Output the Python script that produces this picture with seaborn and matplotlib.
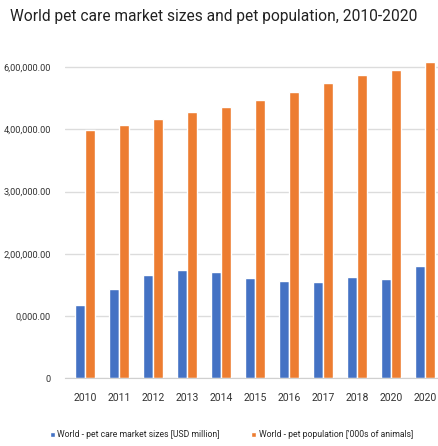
import pandas as pd
import seaborn as sns
import matplotlib.pyplot as plt

# values
years = ['2010', '2011', '2012', '2013', '2014', '2015', '2016', '2017', '2018', '2020', '2020']
market_sizes = [117000, 143000, 166000, 174000, 170000, 161000, 156000, 155000, 162000, 159000, 181000]
pet_population = [399000, 408000, 417000, 428000, 436000, 448000, 461000, 474000, 487000, 496000, 508000]
series_names = ['World - pet care market sizes [USD million]',
                "World - pet population ['000s of animals]"]
ytick_values = [0, 100000, 200000, 300000, 400000, 500000]
ytick_labels = ['0', '0,000.00', '2,00,000.00', '3,00,000.00', '4,00,000.00', '6,00,000.00']

df = pd.DataFrame({
    'idx': list(range(len(years))) * 2,
    'series': [series_names[0]] * len(years) + [series_names[1]] * len(years),
    'value': market_sizes + pet_population,
})

sns.set_style('white')
plt.rcParams['font.family'] = ['Roboto', 'DejaVu Sans']

fig = plt.figure(figsize=(4.39, 4.46), dpi=100)
ax = fig.add_axes([0.148, 0.152, 0.852, 0.725])

sns.barplot(data=df, x='idx', y='value', hue='series', saturation=1,
            palette=['#4472C4', '#ED7D31'], width=0.6, gap=0, ax=ax)

ax.set_xlim(-0.59, 10.41)
ax.set_ylim(0, 520000)
ax.set_yticks(ytick_values)
ax.set_yticklabels(ytick_labels, fontsize=6.7, color='#333333')
ax.set_xticks(range(len(years)))
ax.set_xticklabels(years, fontsize=7.5, color='#333333')
ax.tick_params(axis='x', length=0, pad=11)
ax.tick_params(axis='y', length=0, pad=10)
ax.set_xlabel('')
ax.set_ylabel('')
ax.yaxis.grid(True, color='#dcdcdc', linewidth=1)
ax.set_axisbelow(True)
for side in ['top', 'right', 'left']:
    ax.spines[side].set_visible(False)
ax.spines['bottom'].set_color('#d0d0d0')

handles, labels = ax.get_legend_handles_labels()
ax.get_legend().remove()
fig.legend(handles, labels, loc='center', bbox_to_anchor=(0.527, 0.025), ncol=2,
           frameon=False, handlelength=0.6, handleheight=0.6, handletextpad=0.3,
           columnspacing=3.6, prop={'size': 6.2})

title = fig.text(0.023, 0.962, 'World pet care market sizes and pet population, 2010-2020',
                 fontsize=12, va='center', ha='left', color='#222222')

# shrink the title so it spans the same width as in the reference (~405 px)
fig.canvas.draw()
w = title.get_window_extent().width
title.set_fontsize(12 * 405 / w)

fig.savefig('out.png', dpi=100)
